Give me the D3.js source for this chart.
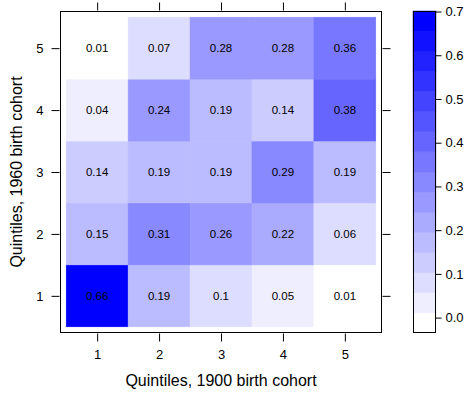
<!DOCTYPE html>
<html>
<head>
<meta charset="utf-8">
<script src="https://cdn.jsdelivr.net/npm/d3@7"></script>
<style>
  body { margin: 0; background: #fff; }
  svg { font-family: "Liberation Sans", Arial, sans-serif; }
  .tick text { fill: #000; }
</style>
</head>
<body>
<div id="chart"></div>
<script>
// quintile levels on both axes
var xLevels = [1, 2, 3, 4, 5]
var yLevels = [1, 2, 3, 4, 5]

// shares, one row per 1960 quintile (1 at bottom), one column per 1900 quintile
var shares = [
    [0.656, 0.19, 0.10, 0.05, 0.01],
    [0.15, 0.31, 0.26, 0.22, 0.06],
    [0.14, 0.19, 0.19, 0.29, 0.19],
    [0.04, 0.242, 0.19, 0.14, 0.38],
    [0.01, 0.07, 0.28, 0.28, 0.36]
]

var colorbarTicks = [0, 0.1, 0.2, 0.3, 0.4, 0.5, 0.6, 0.7]

var xTitle = "Quintiles, 1900 birth cohort"
var yTitle = "Quintiles, 1960 birth cohort"

var width = 468, height = 394
var panel = {left: 60, top: 11, right: 382, bottom: 333}
var bar = {left: 413, right: 436}
var nCuts = 16

var cells = []
shares.forEach(function(row, i){
    row.forEach(function(v, j){
        cells.push({x: xLevels[j], y: yLevels[i], value: v})
    })
})

// lattice-style z range: data extent padded by 7% each side
var ext = d3.extent(cells, function(d){ return d.value })
var pad = (ext[1] - ext[0]) * 0.07
var zLo = ext[0] - pad, zHi = ext[1] + pad
var breaks = d3.range(nCuts + 1).map(function(i){ return zLo + i * (zHi - zLo) / nCuts })
var colors = d3.range(nCuts).map(function(i){ return d3.interpolateRgb("#ffffff", "#0000ff")(i / (nCuts - 1)) })
var color = d3.scaleThreshold().domain(breaks.slice(1, -1)).range(colors)

var x = d3.scaleLinear().domain([0.4, 5.6]).range([panel.left, panel.right])
var y = d3.scaleLinear().domain([0.4, 5.6]).range([panel.bottom, panel.top])
var z = d3.scaleLinear().domain([zLo, zHi]).range([panel.bottom, panel.top])

var svg = d3.select("#chart").append("svg")
    .attr("width", width)
    .attr("height", height)

var g = svg.append("g")

g.selectAll("rect.cell")
    .data(cells)
    .enter().append("rect")
    .attr("class", "cell")
    .attr("x", function(d){ return x(d.x - 0.5) })
    .attr("y", function(d){ return y(d.y + 0.5) })
    .attr("width", function(d){ return x(d.x + 0.5) - x(d.x - 0.5) })
    .attr("height", function(d){ return y(d.y - 0.5) - y(d.y + 0.5) })
    .attr("fill", function(d){ return color(d.value) })
    .attr("stroke", function(d){ return color(d.value) })
    .attr("stroke-width", 0.5)

var fmt = d3.format(".2~f")
g.selectAll("text.lab")
    .data(cells)
    .enter().append("text")
    .attr("class", "lab")
    .attr("x", function(d){ return x(d.x) })
    .attr("y", function(d){ return y(d.y) })
    .attr("dy", "0.35em")
    .attr("text-anchor", "middle")
    .attr("font-size", 11.5)
    .text(function(d){ return fmt(d.value) })

function styleAxis(sel){
    sel.select(".domain").remove()
    sel.selectAll(".tick line").attr("stroke", "#000")
    sel.selectAll(".tick text").attr("font-size", 13)
}

svg.append("g")
    .attr("transform", "translate(0," + (panel.bottom + 0.5) + ")")
    .call(d3.axisBottom(x).tickValues(xLevels).tickFormat(d3.format("d")).tickSize(8).tickPadding(8))
    .call(styleAxis)

svg.append("g")
    .attr("transform", "translate(0," + (panel.top - 0.5) + ")")
    .call(d3.axisTop(x).tickValues(xLevels).tickFormat("").tickSize(8))
    .call(styleAxis)

svg.append("g")
    .attr("transform", "translate(" + (panel.left - 0.5) + ",0)")
    .call(d3.axisLeft(y).tickValues(yLevels).tickFormat(d3.format("d")).tickSize(8).tickPadding(8))
    .call(styleAxis)

svg.append("g")
    .attr("transform", "translate(" + (panel.right + 0.5) + ",0)")
    .call(d3.axisRight(y).tickValues(yLevels).tickFormat("").tickSize(8))
    .call(styleAxis)

svg.append("rect")
    .attr("x", panel.left + 0.5)
    .attr("y", panel.top + 0.5)
    .attr("width", panel.right - panel.left - 1)
    .attr("height", panel.bottom - panel.top - 1)
    .attr("fill", "none")
    .attr("stroke", "#000")

// colour key
svg.selectAll("rect.key")
    .data(colors)
    .enter().append("rect")
    .attr("class", "key")
    .attr("x", bar.left)
    .attr("y", function(d, i){ return z(breaks[i + 1]) })
    .attr("width", bar.right - bar.left)
    .attr("height", function(d, i){ return z(breaks[i]) - z(breaks[i + 1]) })
    .attr("fill", function(d){ return d })
    .attr("stroke", function(d){ return d })
    .attr("stroke-width", 0.5)

svg.append("rect")
    .attr("x", bar.left + 0.5)
    .attr("y", panel.top + 0.5)
    .attr("width", bar.right - bar.left - 1)
    .attr("height", panel.bottom - panel.top - 1)
    .attr("fill", "none")
    .attr("stroke", "#000")

svg.append("g")
    .attr("transform", "translate(" + (bar.right - 0.5) + ",0)")
    .call(d3.axisRight(z).tickValues(colorbarTicks).tickFormat(d3.format(".1f")).tickSize(6).tickPadding(4))
    .call(styleAxis)

svg.append("text")
    .attr("x", (panel.left + panel.right) / 2)
    .attr("y", 386)
    .attr("text-anchor", "middle")
    .attr("font-size", 16)
    .text(xTitle)

svg.append("text")
    .attr("transform", "translate(22," + ((panel.top + panel.bottom) / 2) + ") rotate(-90)")
    .attr("text-anchor", "middle")
    .attr("font-size", 16)
    .text(yTitle)
</script>
</body>
</html>
